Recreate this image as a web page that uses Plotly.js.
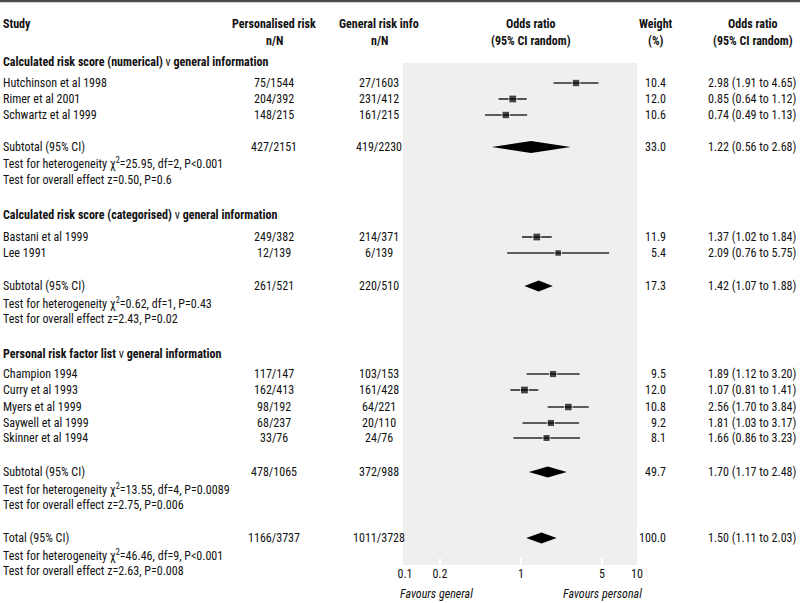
<!DOCTYPE html>
<html><head><meta charset="utf-8">
<script src="https://cdn.plot.ly/plotly-3.0.1.min.js"></script>
<style>html,body{margin:0;padding:0;background:#fff}#chart{width:800px;height:603px}</style>
</head><body><div id="chart"></div>
<script>
// ---------- DATA ----------
const studies = ["Hutchinson et al 1998","Rimer et al 2001","Schwartz et al 1999",
  "Bastani et al 1999","Lee 1991",
  "Champion 1994","Curry et al 1993","Myers et al 1999","Saywell et al 1999","Skinner et al 1994"];
const persN = ["75/1544","204/392","148/215","249/382","12/139","117/147","162/413","98/192","68/237","33/76"];
const genN  = ["27/1603","231/412","161/215","214/371","6/139","103/153","161/428","64/221","20/110","24/76"];
const oddsRatio = [2.98,0.85,0.74,1.37,2.09,1.89,1.07,2.56,1.81,1.66];
const ciLow     = [1.91,0.64,0.49,1.02,0.76,1.12,0.81,1.70,1.03,0.86];
const ciHigh    = [4.65,1.12,1.13,1.84,5.75,3.20,1.41,3.84,3.17,3.23];
const weight    = [10.4,12.0,10.6,11.9,5.4,9.5,12.0,10.8,9.2,8.1];

const groupTitles = ["<b>Calculated risk score (numerical)</b> v <b>general information</b>",
  "<b>Calculated risk score (categorised)</b> v <b>general information</b>",
  "<b>Personal risk factor list</b> v <b>general information</b>"];
const subLabel = ["Subtotal (95% CI)","Subtotal (95% CI)","Subtotal (95% CI)","Total (95% CI)"];
const subPers  = ["427/2151","261/521","478/1065","1166/3737"];
const subGen   = ["419/2230","220/510","372/988","1011/3728"];
const subOR    = [1.22,1.42,1.70,1.50];
const subLow   = [0.56,1.07,1.17,1.11];
const subHigh  = [2.68,1.88,2.48,2.03];
const subWeight= [33.0,17.3,49.7,100.0];
const hetText  = ["χ<sup>2</sup>=25.95, df=2, P&lt;0.001","χ<sup>2</sup>=0.62, df=1, P=0.43",
  "χ<sup>2</sup>=13.55, df=4, P=0.0089","χ<sup>2</sup>=46.46, df=9, P&lt;0.001"];
const effText  = ["z=0.50, P=0.6","z=2.43, P=0.02","z=2.75, P=0.006","z=2.63, P=0.008"];
const tickVals = [0.1,0.2,1,5,10];
const tickText = ["0.1","0.2","1","5","10"];

// ---------- FONT PICK (narrow sans, first one installed) ----------
const cv = document.createElement('canvas').getContext('2d');
function w(font, s) { cv.font = font; return cv.measureText(s).width; }
const SAMPLE = 'Hutchinson et al 1998';
const candidates = ['Liberation Sans Narrow','Roboto Condensed','Open Sans Condensed','Noto Sans Condensed',
  'Arial Narrow','Nimbus Sans Narrow','DejaVu Sans Condensed','Liberation Sans'];
let fam = 'DejaVu Sans Condensed';
for (const c of candidates) {
  const a = w('12px "' + c + '", monospace', SAMPLE), b = w('12px monospace', SAMPLE);
  const a2 = w('12px "' + c + '", serif', SAMPLE), b2 = w('12px serif', SAMPLE);
  if (Math.abs(a - b) > 0.5 && Math.abs(a2 - b2) > 0.5) { fam = c; break; }
}
const FONT = '"' + fam + '", sans-serif';
const FS = Math.max(10.5, Math.min(12.5, 12 * 104 / w('12px ' + FONT, SAMPLE)));

// ---------- LAYOUT (row positions in px from top) ----------
const W = 800, H = 603;
const studyY = [83,99,115,237,253,374,390,407,423,438];
const headingY = [62,215,354];
const subY = [147,286,472,538];
const hetY = [163,303,489,555];
const effY = [180,319,505,571];
const TXT = '#111';
const plotL = 405, plotR = 637, grayL = 403, grayT = 63, grayB = 565;
const colStudy = 2, colPers = 274, colGen = 379, colOR = 531, colW = 667, colWh = 656, colCI = 707, colCIh = 753;

const ann = [];
function A(text, xpx, y, anchor, opts) {
  opts = opts || {};
  ann.push({text: text, xref: 'paper', yref: 'y', x: xpx / W, y: y, xanchor: anchor, yanchor: 'middle',
    showarrow: false, borderpad: 0,
    font: {family: FONT, size: FS, color: TXT, style: opts.italic ? 'italic' : 'normal'}});
}
const fmtCI = (o, l, h) => o.toFixed(2) + ' (' + l.toFixed(2) + ' to ' + h.toFixed(2) + ')';

// headers
A('<b>Study</b>', colStudy, 24, 'left');
A('<b>Personalised risk</b>', colPers, 24, 'center');
A('<b>n/N</b>', colPers, 41, 'center');
A('<b>General risk info</b>', colGen, 24, 'center');
A('<b>n/N</b>', colGen, 41, 'center');
A('<b>Odds ratio</b>', colOR, 24, 'center');
A('<b>(95% CI random)</b>', colOR, 41, 'center');
A('<b>Weight</b>', colWh, 24, 'center');
A('<b>(%)</b>', colWh, 41, 'center');
A('<b>Odds ratio</b>', colCIh, 24, 'center');
A('<b>(95% CI random)</b>', colCIh, 41, 'center');

groupTitles.forEach((t, i) => A(t, colStudy, headingY[i], 'left'));
studies.forEach((s, i) => {
  A(s, colStudy, studyY[i], 'left');
  A(persN[i], colPers, studyY[i], 'center');
  A(genN[i], colGen, studyY[i], 'center');
  A(weight[i].toFixed(1), colW, studyY[i], 'right');
  A(fmtCI(oddsRatio[i], ciLow[i], ciHigh[i]), colCI, studyY[i], 'left');
});
subLabel.forEach((s, i) => {
  A(s, colStudy, subY[i], 'left');
  A(subPers[i], colPers, subY[i], 'center');
  A(subGen[i], colGen, subY[i], 'center');
  A(subWeight[i].toFixed(1), colW, subY[i], 'right');
  A(fmtCI(subOR[i], subLow[i], subHigh[i]), colCI, subY[i], 'left');
  A('Test for heterogeneity ' + hetText[i], colStudy, hetY[i], 'left');
  A('Test for overall effect ' + effText[i], colStudy, effY[i], 'left');
});
A('Favours general', 436, 594, 'center', {italic: true});
A('Favours personal', 602, 594, 'center', {italic: true});

// ---------- TRACES ----------
const traces = [];
traces.push({
  type: 'scatter', mode: 'markers', x: oddsRatio, y: studyY, xaxis: 'x', yaxis: 'y',
  marker: {symbol: 'square', color: '#000', size: weight.map(v => 5.5 + v * 0.2)},
  error_x: {type: 'data', symmetric: false,
    array: ciHigh.map((h, i) => h - oddsRatio[i]), arrayminus: ciLow.map((l, i) => oddsRatio[i] - l),
    width: 0, thickness: 1.6, color: '#2a2a2a'},
  hoverinfo: 'skip'
});
subOR.forEach((o, i) => {
  const h = i === 0 ? 6 : 5.5;
  traces.push({
    type: 'scatter', mode: 'lines', fill: 'toself', fillcolor: '#000',
    x: [subLow[i], o, subHigh[i], o, subLow[i]],
    y: [subY[i], subY[i] - h, subY[i], subY[i] + h, subY[i]],
    line: {width: 0, color: '#000'}, hoverinfo: 'skip'
  });
});

const layout = {
  width: W, height: H, margin: {l: 0, r: 0, t: 0, b: 0},
  paper_bgcolor: '#fff', plot_bgcolor: 'rgba(0,0,0,0)', showlegend: false,
  xaxis: {type: 'log', range: [-1, 1], domain: [plotL / W, plotR / W], anchor: 'free', position: 1 - grayB / H,
    tickvals: tickVals, ticktext: tickText, ticks: 'inside', ticklen: 7, tickwidth: 2, tickcolor: '#fff',
    showline: false, showgrid: false, zeroline: false, fixedrange: true,
    tickfont: {family: FONT, size: FS, color: TXT}},
  yaxis: {range: [H, 0], domain: [0, 1], visible: false, fixedrange: true},
  shapes: [
    {type: 'rect', xref: 'paper', yref: 'y', x0: grayL / W, x1: plotR / W, y0: grayT, y1: grayB,
      fillcolor: '#efefef', line: {width: 0}, layer: 'below'},
    {type: 'line', xref: 'x', yref: 'y', x0: 0, x1: 0, y0: grayT, y1: grayB,
      line: {color: '#fff', width: 2}, layer: 'below'},
    {type: 'line', xref: 'paper', yref: 'y', x0: 0, x1: 1, y0: 1, y1: 1,
      line: {color: '#4a4a4a', width: 2.5}}
  ],
  annotations: ann
};
Plotly.newPlot('chart', traces, layout, {staticPlot: true, displayModeBar: false});
</script>
</body></html>
